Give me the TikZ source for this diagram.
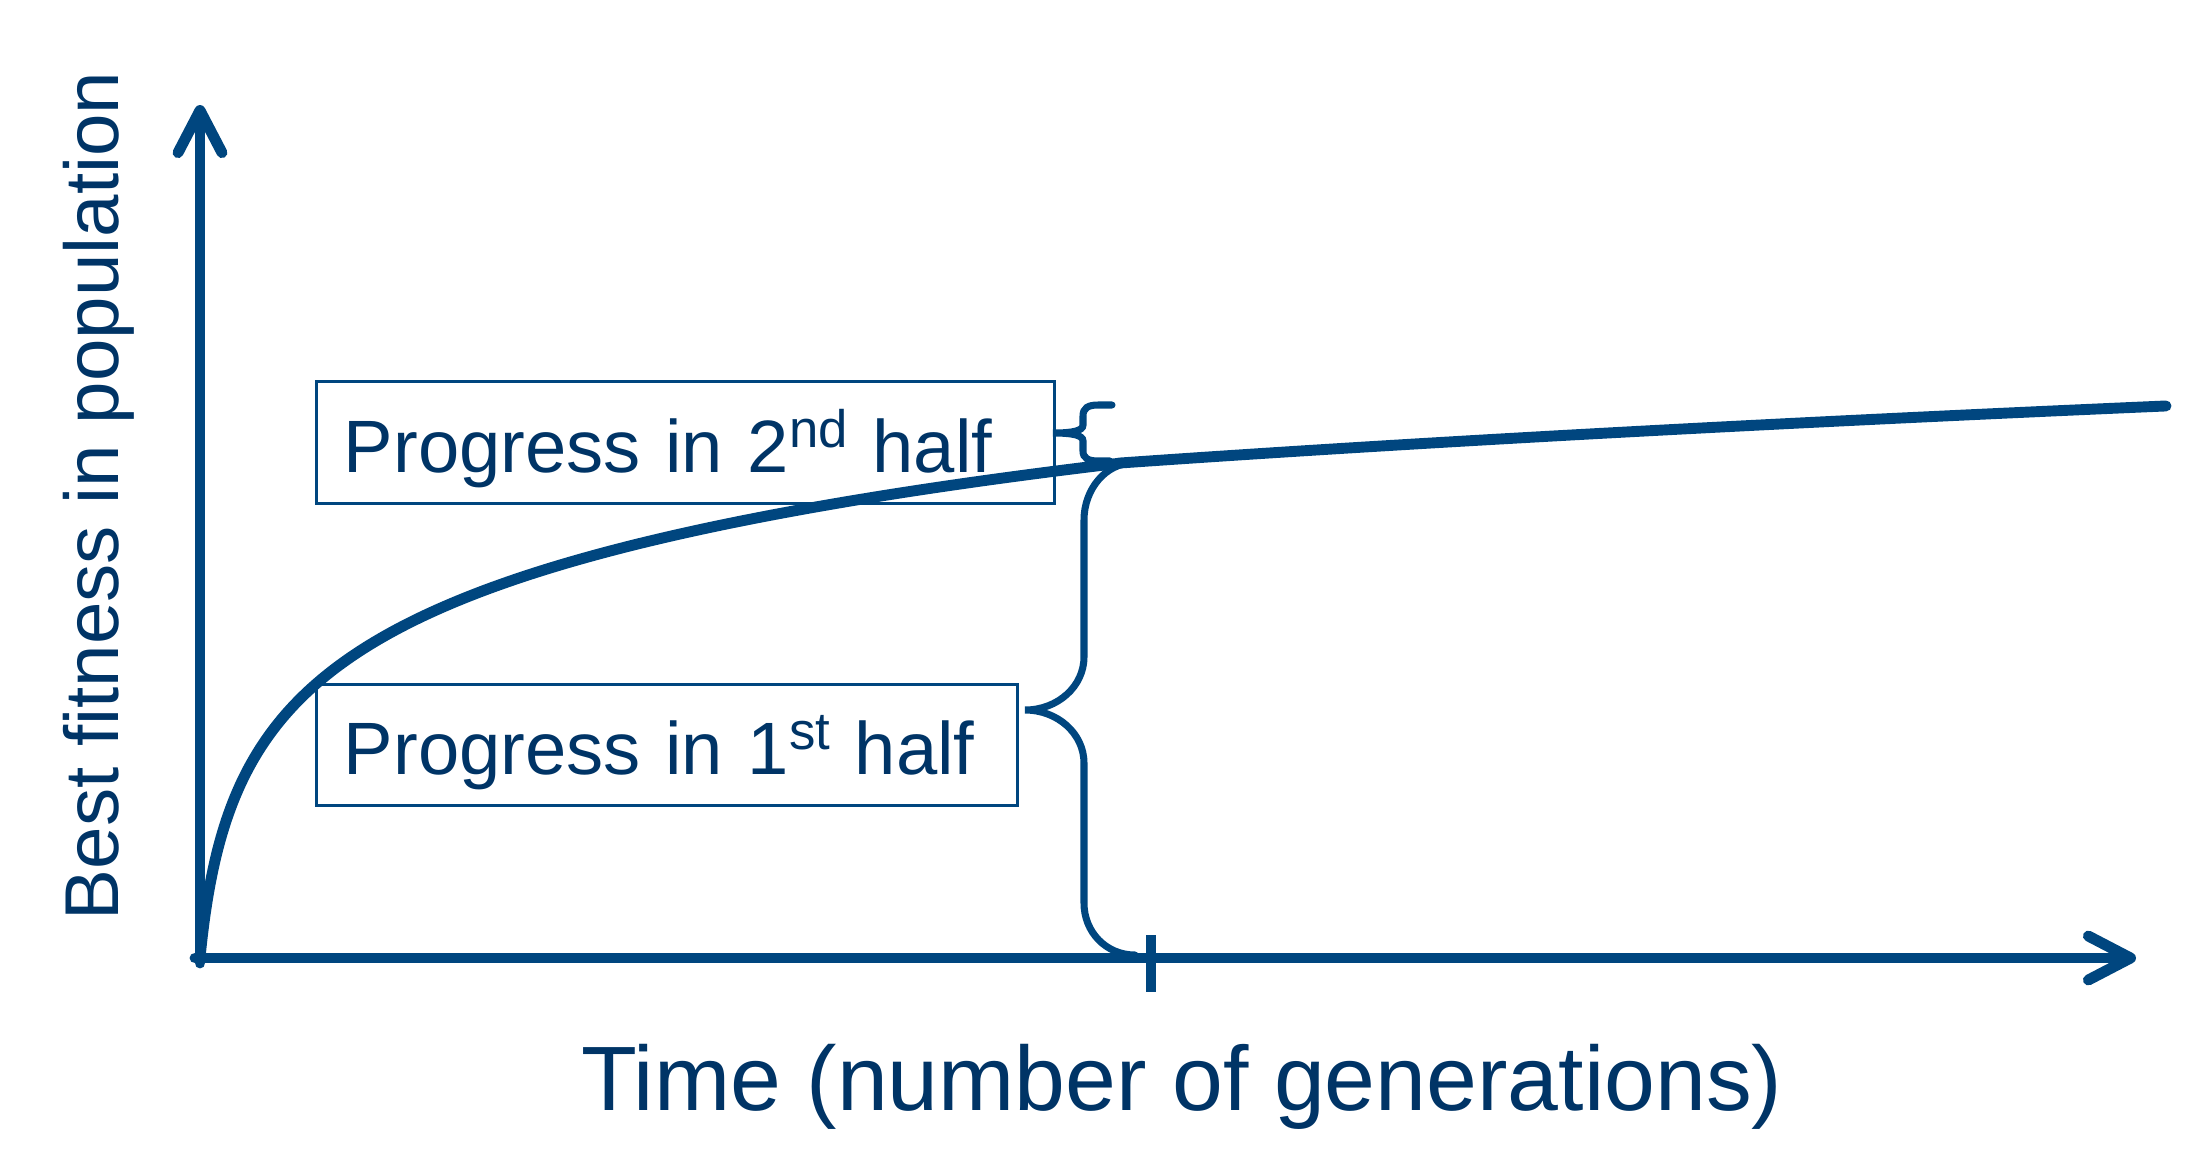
\documentclass[tikz,border=0pt]{standalone}
\usepackage{fontspec}
\setmainfont{Liberation Sans}
\usetikzlibrary{arrows.meta,calc,positioning}
\definecolor{axisblue}{RGB}{0,70,127}
\definecolor{textblue}{RGB}{0,52,102}
% ordinal suffix, smaller and less raised than \textsuperscript
\newcommand\ordsup[1]{\raisebox{0.33em}{\fontsize{15}{15}\selectfont #1}}

\begin{document}
\begin{tikzpicture}[%
    x=0.01cm, y=-0.01cm,        % one unit is one pixel of the slide, y going down
    >={Straight Barb[length=12pt,width=12.5pt,round]}, % open chevron tips
    line cap=round,
    ]
% -------------------------------------------------
% A few styles
\tikzset{
  axis/.style={draw=axisblue, line width=3.1pt},
  fitness/.style={draw=axisblue, line width=3.1pt, line join=round},
  brace/.style={draw=axisblue, line width=2pt},
  labelbox/.style={draw=axisblue, line width=0.85pt, text=textblue,
    align=left, inner xsep=0.27cm, inner ysep=0pt, minimum height=1.21cm,
    text height=0.75cm, text depth=0.16cm,
    font=\fontsize{21.1}{25}\selectfont},
  axlabel/.style={text=textblue, inner sep=0pt}
}
\useasboundingbox (0,0) rectangle (2208,1163);
% -------------------------------------------------
% Axes
\coordinate (O) at (200,958);
\coordinate (ytop) at (200,105);
\coordinate (xend) at (2136,958);
\coordinate (half) at (1151,958);

\draw [axis, ->] ($(O)+(0,5)$) -- (ytop);
\draw [axis, ->] ($(O)+(-5,0)$) -- (xend);
\draw [axis, line cap=butt] ($(half)+(0,-23)$) -- ($(half)+(0,34)$);

\node [axlabel, font=\fontsize{21.7}{26}\selectfont, rotate=90, anchor=base]
  (ylabel) at (118,496) {Best fitness in population};
\node [axlabel, font=\fontsize{26}{31}\selectfont, anchor=base]
  (xlabel) at (1182,1110) {Time (number of generations)};

% -------------------------------------------------
% Fitness curve: fast rise, then a slower second half
\draw [fitness]
  plot [domain=0:1, samples=140, smooth] ({200+920*\x^3}, {958-110.7*ln(1+920*\x^3/10.65)})
  -- plot [domain=0:1046, samples=40, smooth] ({1120+\x}, {463-119*ln(1+\x/1700)});

% -------------------------------------------------
% Place the nodes
\node [labelbox, text width=6.83cm] (second) at (685.5,442.5)
  {Progress in 2\ordsup{nd} half};
\node [labelbox, text width=6.46cm, below=1.78cm of second.south west,
  anchor=north west] (first) {Progress in 1\ordsup{st} half};

% -------------------------------------------------
% Braces
\draw [brace] (1112,405) -- (1098,405) .. controls (1088,405) and (1083,408) .. (1083,416)
  -- (1083,425) .. controls (1083,431) and (1072,433) .. (1053,433)
  .. controls (1072,433) and (1083,435) .. (1083,441)
  -- (1083,451) .. controls (1083,458) and (1088,461) .. (1098,461) -- (1110,461);

\draw [brace] (1133,463) .. controls (1106,463) and (1084,489) .. (1084,520)
  -- (1084,657) .. controls (1084,686) and (1058,710) .. (1025,710)
  .. controls (1058,710) and (1084,734) .. (1084,763)
  -- (1084,903) .. controls (1084,932) and (1106,955) .. (1135,955);

\end{tikzpicture}
\end{document}
